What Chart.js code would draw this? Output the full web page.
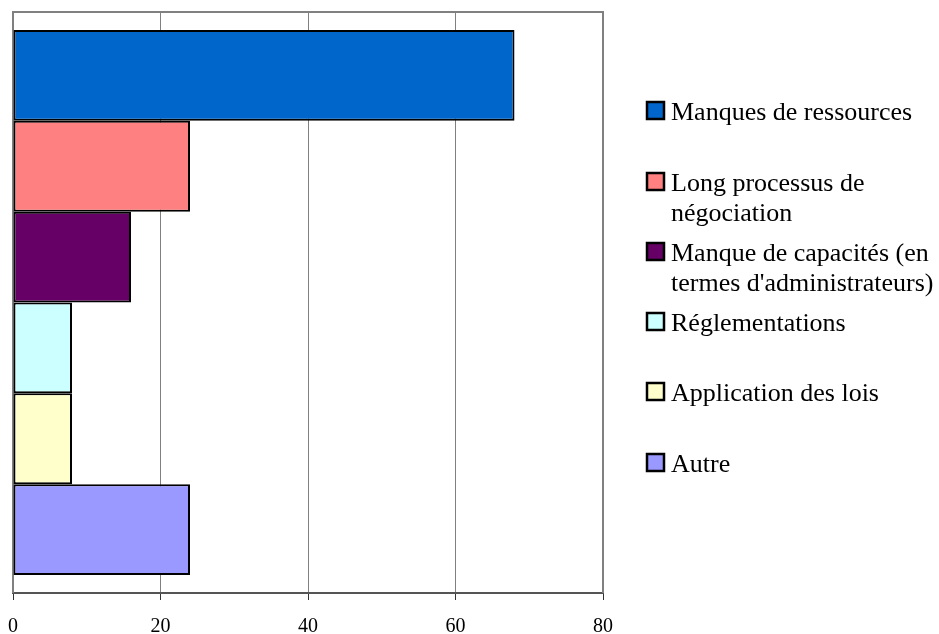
<!DOCTYPE html>
<html>
<head>
<meta charset="utf-8">
<script src="https://cdn.jsdelivr.net/npm/chart.js@4/dist/chart.umd.min.js"></script>
<style>
  html, body { margin: 0; padding: 0; background: #fff; }
  #wrap { width: 939px; height: 634px; }
</style>
</head>
<body>
<div id="wrap"><canvas id="myChart" width="939" height="634"></canvas></div>
<script>
// one category, six series (one bar each)
const categorie = [""];
const causes = [
  ["Manques de ressources"],
  ["Long processus de", "négociation"],
  ["Manque de capacités (en", "termes d'administrateurs)"],
  ["Réglementations"],
  ["Application des lois"],
  ["Autre"]
];
const valeurs = [68, 24, 16, 8, 8, 24];
const couleurs = ["#0066CC", "#FF8080", "#660066", "#CCFFFF", "#FFFFCC", "#9999FF"];
const graduations = [0, 20, 40, 60, 80];

const serif = "'Liberation Serif', 'Times New Roman', serif";

// cadre gris autour de la zone de tracé
const cadre = {
  id: "cadre",
  beforeDatasetsDraw(chart) {
    const { ctx, chartArea: a } = chart;
    ctx.save();
    ctx.strokeStyle = "#808080";
    ctx.lineWidth = 2;
    ctx.beginPath();
    ctx.moveTo(a.left, a.bottom);
    ctx.lineTo(a.left, a.top);
    ctx.lineTo(a.right, a.top);
    ctx.lineTo(a.right, a.bottom);
    ctx.stroke();
    ctx.restore();
  }
};

// légende à droite, avec libellés sur deux lignes
const legende = {
  id: "legende",
  afterDraw(chart) {
    const ctx = chart.ctx;
    const lignesBase = [120, 191, 261, 331, 401, 472];
    ctx.save();
    ctx.font = "26px " + serif;
    ctx.textBaseline = "alphabetic";
    chart.data.datasets.forEach((ds, i) => {
      const y = lignesBase[i];
      ctx.fillStyle = ds.backgroundColor;
      ctx.fillRect(647, y - 18, 17, 17);
      ctx.strokeStyle = "#000";
      ctx.lineWidth = 2.5;
      ctx.strokeRect(647, y - 18, 17, 17);
      ctx.fillStyle = "#000";
      causes[i].forEach((ligne, k) => {
        ctx.fillText(ligne, 671, y + k * 30);
      });
    });
    ctx.restore();
  }
};

const ctx = document.getElementById("myChart");
const myChart = new Chart(ctx, {
  type: "bar",
  data: {
    labels: categorie,
    datasets: causes.map((c, i) => ({
      label: c.join(" "),
      data: [valeurs[i]],
      backgroundColor: couleurs[i],
      borderColor: "#000",
      borderWidth: 2,
      borderSkipped: false,
      categoryPercentage: 0.938,
      barPercentage: 1
    }))
  },
  options: {
    indexAxis: "y",
    responsive: false,
    animation: false,
    layout: { padding: { left: 13, top: 12, right: 336, bottom: 0 } },
    plugins: {
      legend: { display: false },
      tooltip: { enabled: false }
    },
    scales: {
      x: {
        min: 0,
        max: 80,
        afterBuildTicks(axis) {
          axis.ticks = graduations.map(v => ({ value: v }));
        },
        afterFit(axis) {
          axis.height = 41;
          axis.paddingLeft = 5;
          axis.paddingRight = 10;
        },
        grid: {
          color: "#808080",
          lineWidth: 1,
          tickLength: 7,
          tickColor: "#333"
        },
        border: { color: "#555", width: 2 },
        ticks: {
          color: "#000",
          padding: 15,
          maxRotation: 0,
          font: { family: serif, size: 20 }
        }
      },
      y: { display: false }
    }
  },
  plugins: [cadre, legende]
});
</script>
</body>
</html>
